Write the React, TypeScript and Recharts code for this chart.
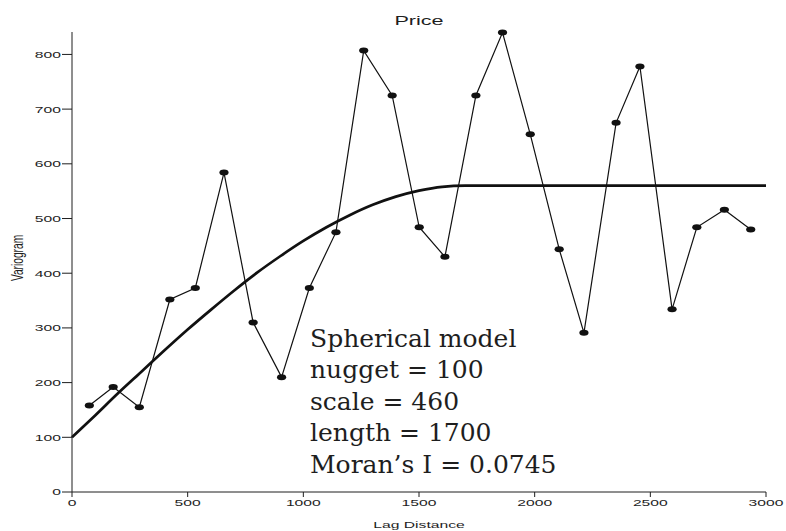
import React from "react";
import { ComposedChart, Line, XAxis, YAxis } from "recharts";

const lagX = [75, 178, 291, 423, 533, 657, 783, 906, 1026, 1141, 1261, 1384, 1501, 1612, 1746, 1861, 1981, 2106, 2213, 2352, 2455, 2594, 2701, 2820, 2934];
const gamma = [158, 192, 155, 352, 373, 584, 310, 210, 373, 475, 807, 725, 484, 430, 725, 840, 654, 444, 291, 675, 778, 334, 484, 516, 480];

// Fitted spherical model curve
const modelX = [0, 100, 200, 300, 400, 500, 600, 700, 800, 900, 1000, 1100, 1200, 1300, 1400, 1500, 1600, 1700, 3000];
const modelY = [100, 140, 181, 220, 259, 297, 333, 368, 401, 431, 459, 484, 506, 525, 540, 551, 558, 560, 560];

const xTicks = [0, 500, 1000, 1500, 2000, 2500, 3000];
const yTicks = [0, 100, 200, 300, 400, 500, 600, 700, 800];

const annotation = ["Spherical model", "nugget = 100", "scale = 460", "length = 1700", "Moran\u2019s I = 0.0745"];

const empData = lagX.map((x, i) => ({ x, gamma: gamma[i] }));
const modelData = modelX.map((x, i) => ({ x, model: modelY[i] }));

const INK = "#1e1e1e";
const SANS = "'Liberation Sans', Arial, sans-serif";
const STRETCH = 1.6;

const YTick = (props: any) => {
  const { x, y, payload } = props;
  return (
    <text
      transform={`translate(${x},${y}) scale(${STRETCH},1)`}
      textAnchor="end"
      dy="0.355em"
      fontFamily={SANS}
      fontSize={9.8}
      fill={INK}
    >
      {payload.value}
    </text>
  );
};

const XTick = (props: any) => {
  const { x, y, payload } = props;
  return (
    <text
      transform={`translate(${x},${y}) scale(${STRETCH},1)`}
      textAnchor="middle"
      dy="0.71em"
      fontFamily={SANS}
      fontSize={9.8}
      fill={INK}
    >
      {payload.value}
    </text>
  );
};

const Dot = (props: any) => {
  const { cx, cy, index } = props;
  if (cx == null || cy == null) return <g key={index} />;
  return <ellipse key={index} cx={cx} cy={cy} rx={4.6} ry={3} fill="#111" />;
};

export default function App() {
  return (
    <div style={{ position: "absolute", left: 0, top: 0, width: 786, height: 531, background: "#fff" }}>
      <ComposedChart width={786} height={531} margin={{ top: 32, right: 20, left: 0, bottom: 0 }}>
        <XAxis
          type="number"
          dataKey="x"
          domain={[0, 3000]}
          ticks={xTicks}
          tickSize={5}
          tickMargin={2}
          height={39}
          stroke={INK}
          tick={<XTick />}
        />
        <YAxis
          type="number"
          domain={[0, 841]}
          ticks={yTicks}
          tickSize={10}
          tickMargin={1}
          width={72}
          stroke={INK}
          tick={<YTick />}
        />
        <Line
          data={modelData}
          dataKey="model"
          type="monotone"
          stroke="#111"
          strokeWidth={2.7}
          dot={false}
          activeDot={false}
          isAnimationActive={false}
        />
        <Line
          data={empData}
          dataKey="gamma"
          type="linear"
          stroke="#111"
          strokeWidth={1.2}
          dot={<Dot />}
          activeDot={false}
          isAnimationActive={false}
        />
      </ComposedChart>
      <svg
        width={786}
        height={531}
        style={{ position: "absolute", left: 0, top: 0, pointerEvents: "none" }}
      >
        <text
          transform={`translate(419,25) scale(${STRETCH},1)`}
          textAnchor="middle"
          fontFamily={SANS}
          fontSize={13.5}
          fill={INK}
        >
          Price
        </text>
        <text
          transform={`translate(419,527.5) scale(${STRETCH},1)`}
          textAnchor="middle"
          fontFamily={SANS}
          fontSize={9.8}
          fill={INK}
        >
          Lag Distance
        </text>
        <text
          transform={`translate(23,258) rotate(-90) scale(1,${STRETCH})`}
          textAnchor="middle"
          fontFamily={SANS}
          fontSize={10.2}
          fill={INK}
        >
          Variogram
        </text>
        {annotation.map((line, i) => (
          <text
            key={i}
            x={310}
            y={346.5 + i * 31.6}
            fontFamily="'DejaVu Serif', serif"
            fontSize={25}
            fill={INK}
          >
            {line}
          </text>
        ))}
      </svg>
    </div>
  );
}
